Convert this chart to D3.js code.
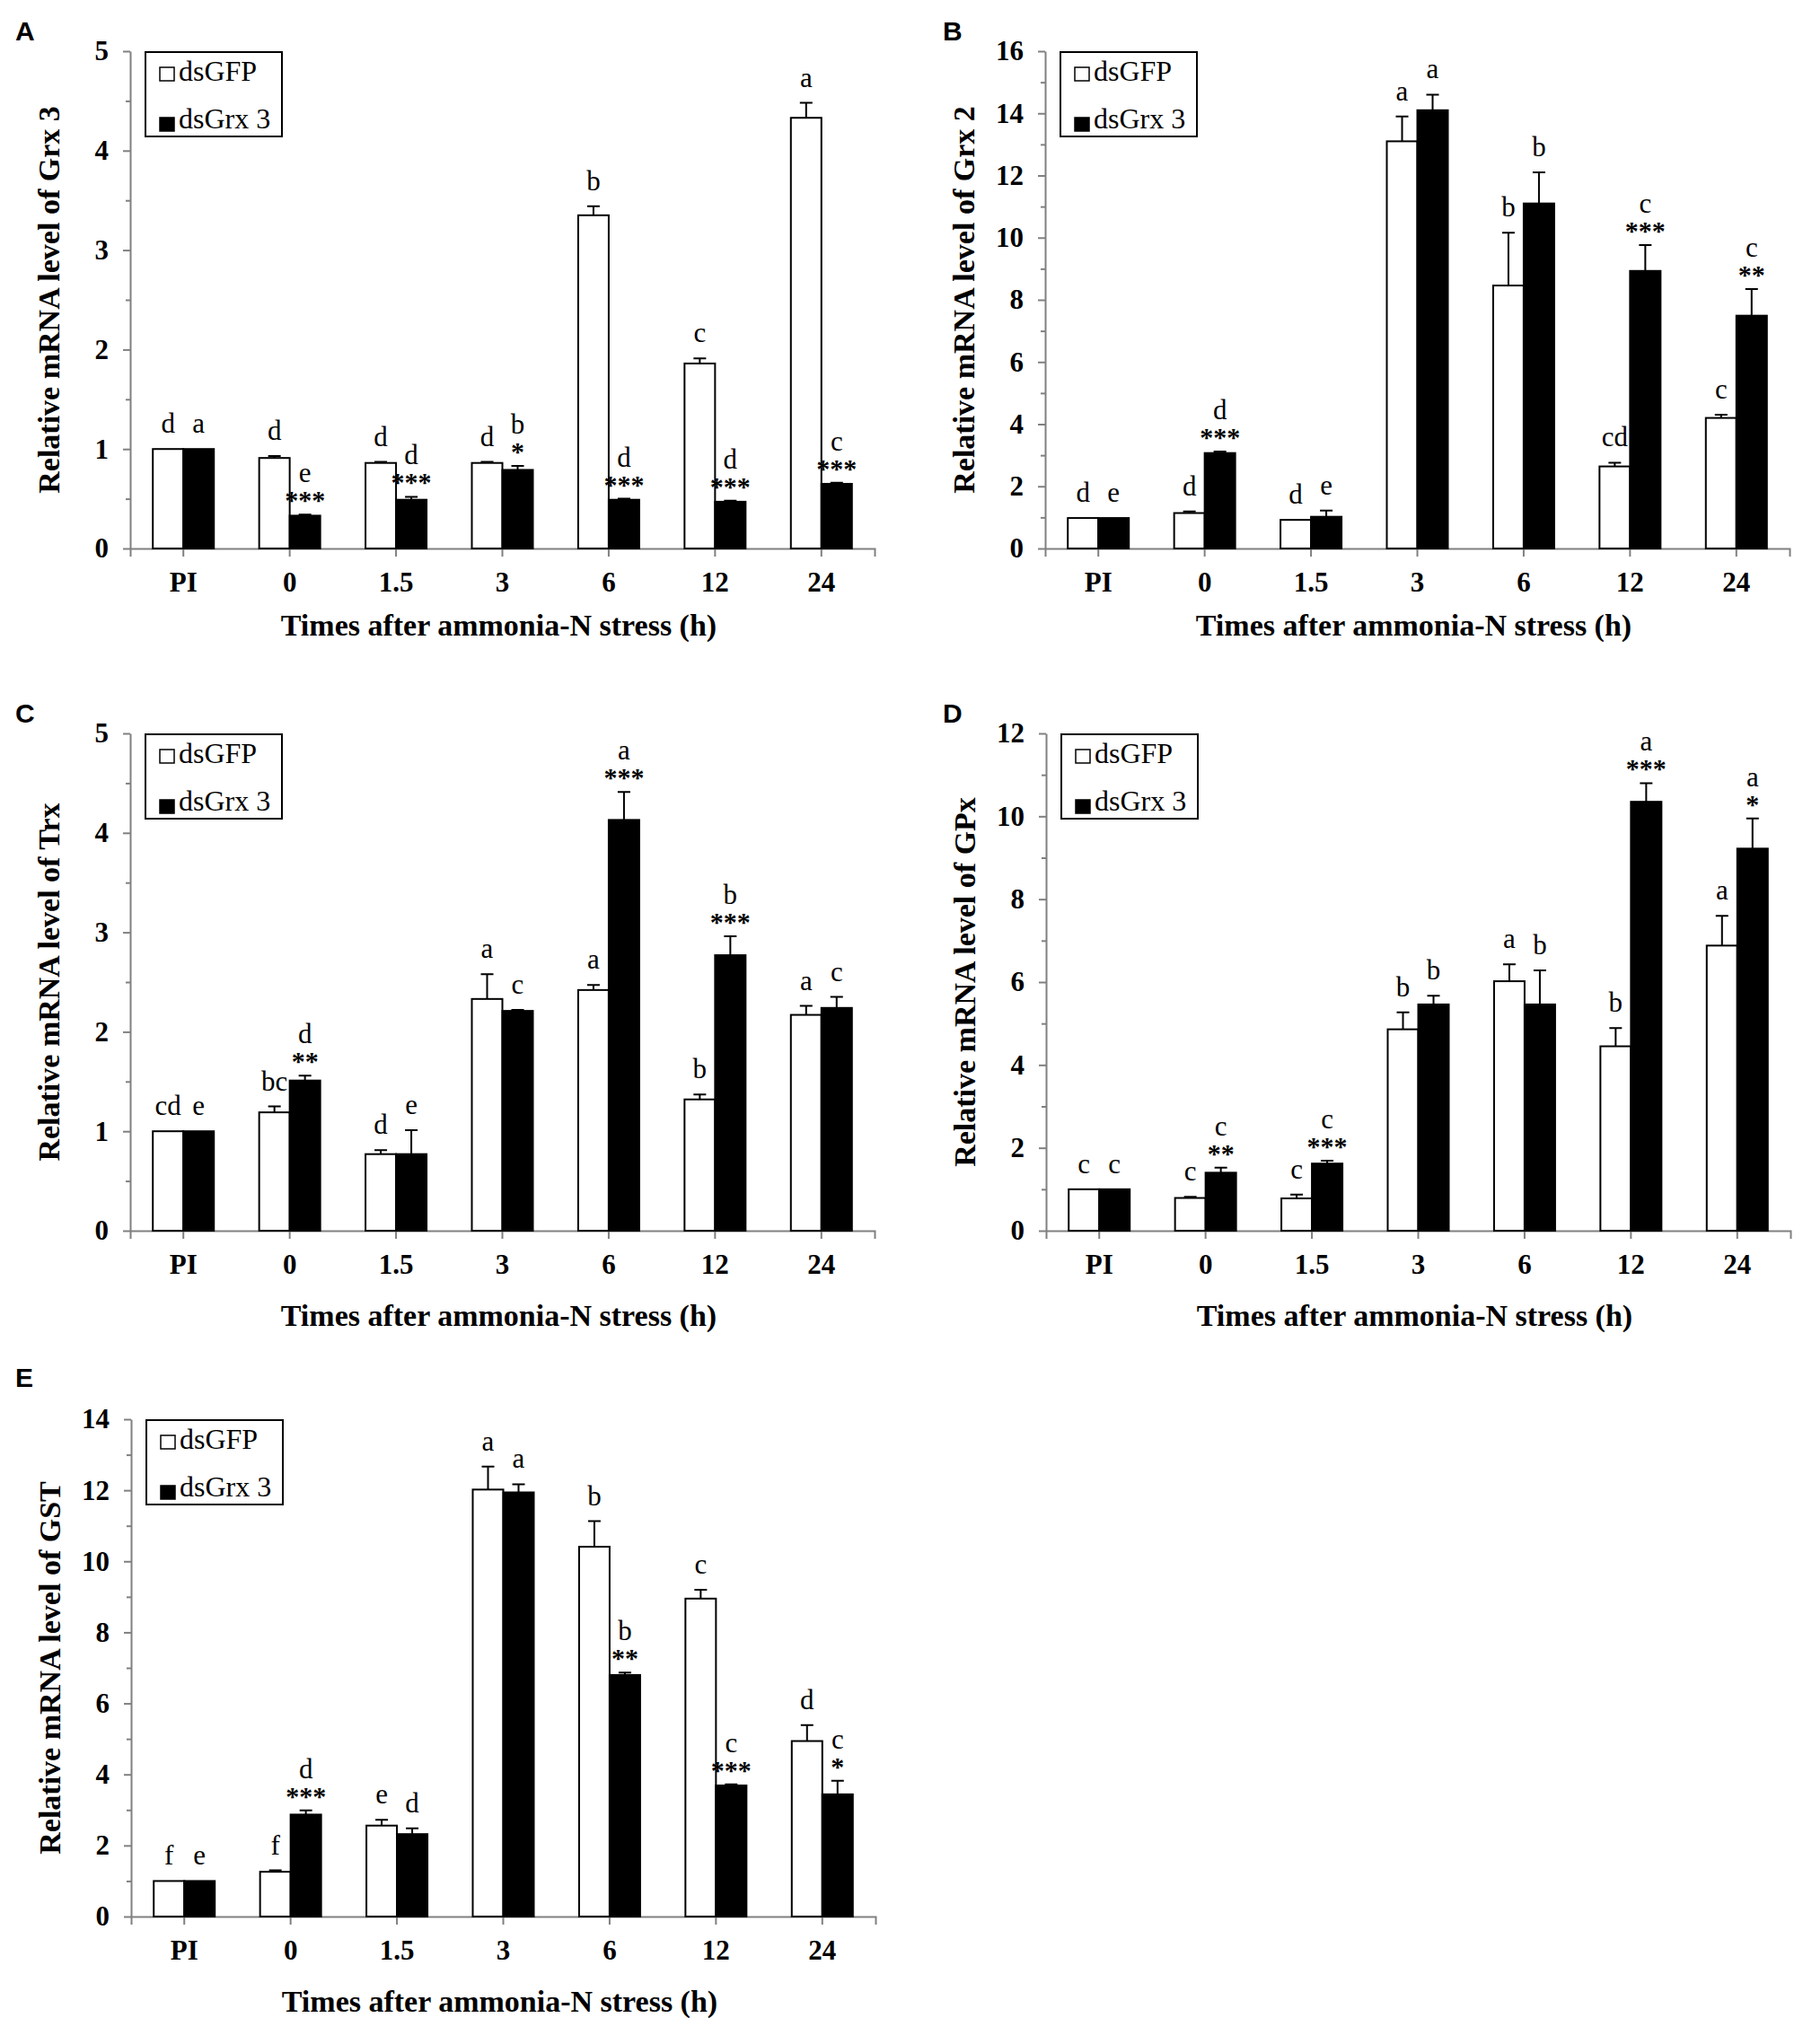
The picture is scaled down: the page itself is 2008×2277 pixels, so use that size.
<!DOCTYPE html>
<html>
<head>
<meta charset="utf-8">
<script src="https://cdn.jsdelivr.net/npm/d3@7"></script>
<style>
  body { margin: 0; background: #fff; }
  svg { display: block; }
</style>
</head>
<body>
<script>
const categories = ["PI", "0", "1.5", "3", "6", "12", "24"];
const seriesNames = ["dsGFP", "dsGrx 3"];

// A: Grx 3
const grx3Gfp = [1.00, 0.91, 0.86, 0.86, 3.35, 1.86, 4.33];
const grx3GfpSe = [0, 0.02, 0.01, 0.01, 0.09, 0.05, 0.15];
const grx3Kd = [1.00, 0.33, 0.49, 0.79, 0.49, 0.47, 0.65];
const grx3KdSe = [0, 0.01, 0.03, 0.04, 0.01, 0.01, 0.01];
const grx3GfpLetters = ["d", "d", "d", "d", "b", "c", "a"];
const grx3KdLetters = ["a", "e", "d", "b", "d", "d", "c"];
const grx3Stars = ["", "***", "***", "*", "***", "***", "***"];

// B: Grx 2
const grx2Gfp = [0.98, 1.14, 0.92, 13.1, 8.46, 2.64, 4.20];
const grx2GfpSe = [0, 0.05, 0, 0.8, 1.7, 0.12, 0.10];
const grx2Kd = [0.98, 3.07, 1.02, 14.1, 11.1, 8.93, 7.49];
const grx2KdSe = [0, 0.05, 0.2, 0.5, 1.0, 0.83, 0.86];
const grx2GfpLetters = ["d", "d", "d", "a", "b", "cd", "c"];
const grx2KdLetters = ["e", "d", "e", "a", "b", "c", "c"];
const grx2Stars = ["", "***", "", "", "", "***", "**"];

// C: Trx
const trxGfp = [1.00, 1.19, 0.77, 2.33, 2.42, 1.32, 2.17];
const trxGfpSe = [0, 0.06, 0.04, 0.25, 0.05, 0.05, 0.09];
const trxKd = [1.00, 1.51, 0.77, 2.21, 4.13, 2.77, 2.24];
const trxKdSe = [0, 0.05, 0.24, 0.01, 0.28, 0.19, 0.11];
const trxGfpLetters = ["cd", "bc", "d", "a", "a", "b", "a"];
const trxKdLetters = ["e", "d", "e", "c", "a", "b", "c"];
const trxStars = ["", "**", "", "", "***", "***", ""];

// D: GPx
const gpxGfp = [1.00, 0.79, 0.78, 4.86, 6.02, 4.45, 6.88];
const gpxGfpSe = [0, 0.03, 0.09, 0.41, 0.41, 0.44, 0.72];
const gpxKd = [1.00, 1.40, 1.62, 5.46, 5.46, 10.35, 9.22];
const gpxKdSe = [0, 0.12, 0.07, 0.21, 0.82, 0.45, 0.73];
const gpxGfpLetters = ["c", "c", "c", "b", "a", "b", "a"];
const gpxKdLetters = ["c", "c", "c", "b", "b", "a", "a"];
const gpxStars = ["", "**", "***", "", "", "***", "*"];

// E: GST
const gstGfp = [1.00, 1.26, 2.56, 12.02, 10.41, 8.95, 4.94];
const gstGfpSe = [0, 0.04, 0.16, 0.65, 0.72, 0.25, 0.45];
const gstKd = [1.00, 2.87, 2.32, 11.94, 6.80, 3.69, 3.44];
const gstKdSe = [0, 0.12, 0.16, 0.23, 0.07, 0.03, 0.38];
const gstGfpLetters = ["f", "f", "e", "a", "b", "c", "d"];
const gstKdLetters = ["e", "d", "d", "a", "b", "c", "c"];
const gstStars = ["", "***", "", "", "**", "***", "*"];

const panels = [
  { tag: "A", gene: "Grx 3", yMax: 5, yStep: 1, gfp: grx3Gfp, gfpSe: grx3GfpSe, kd: grx3Kd, kdSe: grx3KdSe,
    gfpLetters: grx3GfpLetters, kdLetters: grx3KdLetters, stars: grx3Stars },
  { tag: "B", gene: "Grx 2", yMax: 16, yStep: 2, gfp: grx2Gfp, gfpSe: grx2GfpSe, kd: grx2Kd, kdSe: grx2KdSe,
    gfpLetters: grx2GfpLetters, kdLetters: grx2KdLetters, stars: grx2Stars },
  { tag: "C", gene: "Trx", yMax: 5, yStep: 1, gfp: trxGfp, gfpSe: trxGfpSe, kd: trxKd, kdSe: trxKdSe,
    gfpLetters: trxGfpLetters, kdLetters: trxKdLetters, stars: trxStars },
  { tag: "D", gene: "GPx", yMax: 12, yStep: 2, gfp: gpxGfp, gfpSe: gpxGfpSe, kd: gpxKd, kdSe: gpxKdSe,
    gfpLetters: gpxGfpLetters, kdLetters: gpxKdLetters, stars: gpxStars },
  { tag: "E", gene: "GST", yMax: 14, yStep: 2, gfp: gstGfp, gfpSe: gstGfpSe, kd: gstKd, kdSe: gstKdSe,
    gfpLetters: gstGfpLetters, kdLetters: gstKdLetters, stars: gstStars }
];

// where each panel sits on the page, where its letter goes, and how far its x title drops
const offsets = [[0, 0], [1019, 0], [0, 760], [1020, 760], [1, 1524]];
const tagPos = [[17, 45], [1050, 45], [17, 805], [1050, 805], [17, 1545]];
const titleDrop = [0, 0, 9, 9, 9];

const serif = "'Liberation Serif', 'Times New Roman', serif";
const sans = "'Liberation Sans', Arial, sans-serif";
const axisGrey = "#808080";

const svg = d3.select("body").append("svg")
  .attr("width", 2008)
  .attr("height", 2277);

const plotLeft = 145, plotRight = 974, plotTop = 57, plotBottom = 611;

panels.forEach((p, k) => drawPanel(p, offsets[k], tagPos[k], titleDrop[k]));

function drawPanel(p, off, tp, drop) {
  svg.append("text")
    .attr("x", tp[0]).attr("y", tp[1])
    .attr("font-family", sans).attr("font-weight", "bold").attr("font-size", 30)
    .text(p.tag);

  const g = svg.append("g").attr("transform", `translate(${off[0]},${off[1]})`);

  const x = d3.scaleBand().domain(categories).range([plotLeft, plotRight]);
  const sub = d3.scaleBand().domain(["gfp", "kd"]).range([-34, 34]);
  const y = d3.scaleLinear().domain([0, p.yMax]).range([plotBottom, plotTop]);

  // minor ticks first, then major axis
  const minor = d3.range(p.yStep / 2, p.yMax, p.yStep);
  g.append("g").attr("class", "minor")
    .attr("transform", `translate(${plotLeft},0)`)
    .call(d3.axisLeft(y).tickValues(minor).tickSize(5).tickFormat(""))
    .call(a => a.select(".domain").remove());

  g.append("g")
    .attr("transform", `translate(${plotLeft},0)`)
    .call(d3.axisLeft(y)
      .tickValues(d3.range(0, p.yMax + 0.001, p.yStep))
      .tickSize(8).tickSizeOuter(0).tickPadding(16)
      .tickFormat(d3.format("d")));

  g.append("g")
    .attr("transform", `translate(0,${plotBottom})`)
    .call(d3.axisBottom(x).tickSize(9).tickSizeOuter(9).tickPadding(17));

  g.selectAll(".domain, .tick line")
    .attr("stroke", axisGrey).attr("stroke-width", 2);
  g.selectAll(".tick text")
    .attr("font-family", serif).attr("font-weight", "bold")
    .attr("font-size", 31).attr("fill", "#000");

  // bars
  const rows = categories.map((c, i) => [
    { cat: c, key: "gfp", v: p.gfp[i], se: p.gfpSe[i], letter: p.gfpLetters[i], star: "" },
    { cat: c, key: "kd", v: p.kd[i], se: p.kdSe[i], letter: p.kdLetters[i], star: p.stars[i] }
  ]).flat();

  const bx = d => x(d.cat) + x.bandwidth() / 2 + sub(d.key);
  const cx = d => bx(d) + sub.bandwidth() / 2;

  g.selectAll(".bar")
    .data(rows)
    .enter()
    .append("rect")
    .attr("class", "bar")
    .attr("x", bx)
    .attr("y", d => y(d.v))
    .attr("width", sub.bandwidth())
    .attr("height", d => y(0) - y(d.v))
    .attr("fill", d => d.key === "gfp" ? "#fff" : "#000")
    .attr("stroke", "#000")
    .attr("stroke-width", 2);

  // error bars (upper only)
  const withErr = rows.filter(d => d.se > 0);
  g.selectAll(".err")
    .data(withErr)
    .enter()
    .append("path")
    .attr("class", "err")
    .attr("d", d => `M${cx(d)},${y(d.v)}V${y(d.v + d.se)}M${cx(d) - 7},${y(d.v + d.se)}h14`)
    .attr("stroke", "#000")
    .attr("stroke-width", 2)
    .attr("fill", "none");

  // significance stars and group letters
  g.selectAll(".star")
    .data(rows.filter(d => d.star))
    .enter()
    .append("text")
    .attr("x", cx)
    .attr("y", d => y(d.v + d.se) - 6)
    .attr("text-anchor", "middle")
    .attr("font-family", serif).attr("font-weight", "bold").attr("font-size", 30)
    .text(d => d.star);

  g.selectAll(".letter")
    .data(rows)
    .enter()
    .append("text")
    .attr("x", cx)
    .attr("y", d => y(d.v + d.se) - (d.star ? 36 : 18))
    .attr("text-anchor", "middle")
    .attr("font-family", serif).attr("font-size", 31)
    .text(d => d.letter);

  // legend
  const lg = g.append("g");
  lg.append("rect")
    .attr("x", 162).attr("y", 58).attr("width", 152).attr("height", 94)
    .attr("fill", "#fff").attr("stroke", "#000").attr("stroke-width", 2);
  seriesNames.forEach((name, i) => {
    lg.append("rect")
      .attr("x", 178).attr("y", 75 + i * 56).attr("width", 16).attr("height", 15)
      .attr("fill", i === 0 ? "#fff" : "#000")
      .attr("stroke", "#000").attr("stroke-width", 1.5);
    lg.append("text")
      .attr("x", 199).attr("y", 90 + i * 53)
      .attr("font-family", serif).attr("font-size", 32)
      .text(name);
  });

  // axis titles
  g.append("text")
    .attr("x", (plotLeft + plotRight) / 2 - 4).attr("y", 708 + drop)
    .attr("text-anchor", "middle")
    .attr("font-family", serif).attr("font-weight", "bold").attr("font-size", 34)
    .text("Times after ammonia-N stress (h)");

  g.append("text")
    .attr("transform", `translate(66,${(plotTop + plotBottom) / 2}) rotate(-90)`)
    .attr("text-anchor", "middle")
    .attr("font-family", serif).attr("font-weight", "bold").attr("font-size", 34)
    .text("Relative mRNA level of  " + p.gene);
}
</script>
</body>
</html>
